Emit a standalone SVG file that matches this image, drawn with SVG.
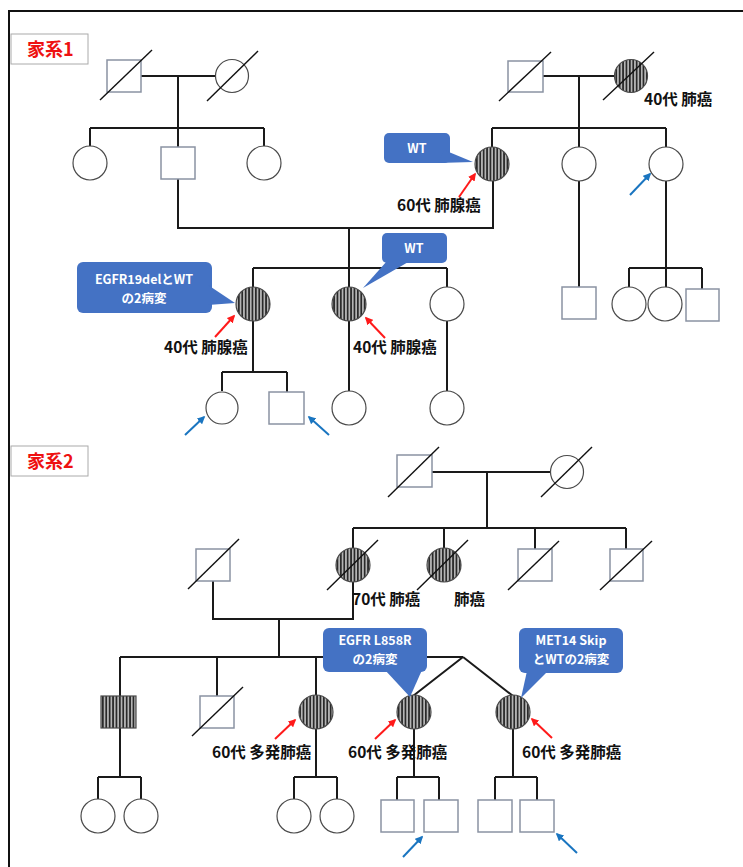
<svg xmlns="http://www.w3.org/2000/svg" width="743" height="867" viewBox="0 0 743 867">
<defs>
<pattern id="stripe" patternUnits="userSpaceOnUse" width="3.4" height="10">
<rect x="0" y="0" width="3.4" height="10" fill="#b4b4b4"/>
<rect x="0" y="0" width="1.7" height="10" fill="#2a2a2a"/>
</pattern>
<marker id="ar" viewBox="0 0 10 10" refX="8" refY="5" markerWidth="4" markerHeight="4" orient="auto"><path d="M0,0 L10,5 L0,10 z" fill="#ff1a1a"/></marker>
<marker id="ab" viewBox="0 0 10 10" refX="8" refY="5" markerWidth="4" markerHeight="4" orient="auto"><path d="M0,0 L10,5 L0,10 z" fill="#1a75c0"/></marker>
</defs>
<style>
.sq{fill:#fff;stroke:#8a93a3;stroke-width:1.5}
.ci{fill:#fff;stroke:#4a4a4a;stroke-width:1.2}
.st{fill:url(#stripe);stroke:#4a4a4a;stroke-width:1.2}
.dg{stroke:#111;stroke-width:1.4}
.ln{fill:none;stroke:#1a1a1a;stroke-width:2}
.lbl{font-family:"Noto Sans CJK JP","Noto Sans",sans-serif;font-weight:bold;font-size:15.5px;fill:#111}
.cb{fill:#4472c4}
.ct{font-family:"Noto Sans CJK JP","Noto Sans",sans-serif;font-weight:bold;font-size:12.5px;fill:#fff;text-anchor:middle}
.ra{stroke:#ff1a1a;stroke-width:2;marker-end:url(#ar)}
.ba{stroke:#1a75c0;stroke-width:2;marker-end:url(#ab)}
.hd{font-family:"Noto Sans CJK JP",sans-serif;font-weight:bold;font-size:18px;fill:#ee1111}
</style>
<rect width="743" height="867" fill="#fff"/>
<rect x="9" y="11" width="745" height="870" fill="none" stroke="#111" stroke-width="2"/>

<g id="heading1"><rect x="11" y="34" width="77" height="30" fill="#fff" stroke="#aaa" stroke-width="1"/><text class="hd" x="27" y="56">家系1</text></g>
<g id="heading2"><rect x="11" y="446" width="77" height="30" fill="#fff" stroke="#aaa" stroke-width="1"/><text class="hd" x="27" y="468">家系2</text></g>

<g id="connectors">
<path class="ln" d="M141,76 H216 M178,76 V128 M90,128 H264 M90,128 V147 M178,128 V147 M264,128 V147"/>
<path class="ln" d="M543,76 H614 M579,76 V147 M492,128 H666 M492,128 V147 M666,128 V147"/>
<path class="ln" d="M178,179 V228 H493 V181 M349,228 V287 M253,268 H447 M253,268 V287 M447,268 V287"/>
<path class="ln" d="M579,181 V287 M666,181 V287 M629,268 H702 M629,268 V287 M702,268 V289"/>
<path class="ln" d="M253,321 V372 M222,372 H287 M222,372 V391 M287,372 V392 M349,321 V391 M447,321 V391"/>
<path class="ln" d="M432,472 H550 M487,472 V528 M353,528 H626 M353,528 V548 M444,528 V548 M535,528 V549 M626,528 V549"/>
<path class="ln" d="M213,581 V619 H353 V582 M279,619 V657 M120,657 H463 M120,657 V696 M217,657 V696 M316,657 V695 M463,657 L413,696 M463,657 L513,696"/>
<path class="ln" d="M120,728 V777 M98,777 H141 M98,777 V799 M141,777 V799 M316,729 V777 M294,777 H337 M294,777 V799 M337,777 V799 M414,729 V777 M397,777 H439 M397,777 V800 M439,777 V800 M513,729 V777 M495,777 H537 M495,777 V800 M537,777 V800"/>
</g>

<g id="f1-gf1"><rect class="sq" x="107" y="60" width="34" height="32"/><line class="dg" x1="100" y1="100" x2="152" y2="50"/></g>
<g id="f1-gm1"><circle class="ci" cx="232" cy="76" r="16.5"/><line class="dg" x1="207" y1="101" x2="258" y2="51"/></g>
<g id="f1-gf2"><rect class="sq" x="508" y="61" width="35" height="31"/><line class="dg" x1="499" y1="101" x2="551" y2="52"/></g>
<g id="f1-gm2"><circle class="st" cx="631" cy="76" r="16.5"/><line class="dg" x1="603" y1="100" x2="654" y2="52"/><text class="lbl" x="644" y="105">40代 肺癌</text></g>
<g id="f1-a1"><circle class="ci" cx="90" cy="163" r="17"/></g>
<g id="f1-a2"><rect class="sq" x="161" y="147" width="34" height="32"/></g>
<g id="f1-a3"><circle class="ci" cx="264" cy="163" r="17"/></g>
<g id="f1-b1"><circle class="st" cx="492" cy="164" r="17"/><text class="lbl" x="397" y="211">60代 肺腺癌</text></g>
<g id="f1-b2"><circle class="ci" cx="579" cy="164" r="17"/></g>
<g id="f1-b3"><circle class="ci" cx="666" cy="164" r="17"/></g>
<g id="f1-c1"><rect class="sq" x="562" y="287" width="34" height="32"/></g>
<g id="f1-c2"><circle class="ci" cx="629" cy="304" r="17"/></g>
<g id="f1-c3"><circle class="ci" cx="665" cy="304" r="17"/></g>
<g id="f1-c4"><rect class="sq" x="686" y="289" width="33" height="32"/></g>
<g id="f1-d1"><circle class="st" cx="253" cy="304" r="17"/><text class="lbl" x="164" y="353">40代 肺腺癌</text></g>
<g id="f1-d2"><circle class="st" cx="349" cy="304" r="17"/><text class="lbl" x="353" y="353">40代 肺腺癌</text></g>
<g id="f1-d3"><circle class="ci" cx="447" cy="304" r="17"/></g>
<g id="f1-e1"><circle class="ci" cx="222" cy="408" r="16"/></g>
<g id="f1-e2"><rect class="sq" x="269" y="392" width="35" height="32"/></g>
<g id="f1-e3"><circle class="ci" cx="349" cy="408" r="17"/></g>
<g id="f1-e4"><circle class="ci" cx="447" cy="408" r="17"/></g>

<g id="f2-gf"><rect class="sq" x="397" y="455" width="35" height="32"/><line class="dg" x1="388" y1="497" x2="439" y2="447"/></g>
<g id="f2-gm"><circle class="ci" cx="567" cy="472" r="16.5"/><line class="dg" x1="541" y1="497" x2="592" y2="447"/></g>
<g id="f2-s0"><rect class="sq" x="196" y="549" width="34" height="32"/><line class="dg" x1="188" y1="589" x2="239" y2="539"/></g>
<g id="f2-a1"><circle class="st" cx="353" cy="565" r="17"/><line class="dg" x1="327" y1="590" x2="378" y2="540"/><text class="lbl" x="352" y="605">70代 肺癌</text></g>
<g id="f2-a2"><circle class="st" cx="444" cy="565" r="17"/><line class="dg" x1="417" y1="590" x2="468" y2="540"/><text class="lbl" x="454" y="605">肺癌</text></g>
<g id="f2-a3"><rect class="sq" x="518" y="549" width="34" height="32"/><line class="dg" x1="508" y1="590" x2="559" y2="541"/></g>
<g id="f2-a4"><rect class="sq" x="610" y="549" width="33" height="32"/><line class="dg" x1="600" y1="590" x2="652" y2="541"/></g>
<g id="f2-b1"><rect class="st" x="101" y="696" width="35" height="32" stroke="#8a93a3"/></g>
<g id="f2-b2"><rect class="sq" x="200" y="696" width="34" height="32"/><line class="dg" x1="192" y1="736" x2="243" y2="687"/></g>
<g id="f2-b3"><circle class="st" cx="316" cy="712" r="17"/><text class="lbl" x="212" y="758">60代 多発肺癌</text></g>
<g id="f2-b4"><circle class="st" cx="414" cy="712" r="17"/><text class="lbl" x="348" y="758">60代 多発肺癌</text></g>
<g id="f2-b5"><circle class="st" cx="513" cy="712" r="17"/><text class="lbl" x="522" y="758">60代 多発肺癌</text></g>
<g id="f2-c1"><circle class="ci" cx="98" cy="816" r="17"/></g>
<g id="f2-c2"><circle class="ci" cx="141" cy="816" r="17"/></g>
<g id="f2-c3"><circle class="ci" cx="294" cy="816" r="17"/></g>
<g id="f2-c4"><circle class="ci" cx="337" cy="816" r="17"/></g>
<g id="f2-c5"><rect class="sq" x="381" y="800" width="33" height="32"/></g>
<g id="f2-c6"><rect class="sq" x="424" y="800" width="34" height="32"/></g>
<g id="f2-c7"><rect class="sq" x="478" y="800" width="34" height="32"/></g>
<g id="f2-c8"><rect class="sq" x="520" y="800" width="34" height="32"/></g>

<g id="callout-wt1"><rect class="cb" x="384" y="133" width="66" height="30" rx="5"/><polygon class="cb" points="444,150 473,162 438,163"/><text class="ct" x="417" y="153" font-size="14">WT</text></g>
<g id="callout-egfr19"><rect class="cb" x="77" y="262" width="135" height="51" rx="6"/><polygon class="cb" points="208,285 235,303 208,305"/><text class="ct" x="144" y="284">EGFR19delとWT</text><text class="ct" x="144" y="303">の2病変</text></g>
<g id="callout-wt2"><rect class="cb" x="382" y="233" width="65" height="30" rx="5"/><polygon class="cb" points="387,261 363,288 410,261"/><text class="ct" x="414" y="253" font-size="14">WT</text></g>
<g id="callout-l858r"><rect class="cb" x="323" y="628" width="104" height="44" rx="6"/><polygon class="cb" points="385,670 410,697 422,670"/><text class="ct" x="375" y="645">EGFR L858R</text><text class="ct" x="375" y="664">の2病変</text></g>
<g id="callout-met14"><rect class="cb" x="519" y="628" width="104" height="45" rx="6"/><polygon class="cb" points="527,671 521,698 548,671"/><text class="ct" x="571" y="645">MET14 Skip</text><text class="ct" x="571" y="664">とWTの2病変</text></g>

<g id="arrows">
<line class="ra" x1="459" y1="197" x2="475" y2="174"/>
<line class="ba" x1="630" y1="195" x2="650" y2="174"/>
<line class="ra" x1="215" y1="337" x2="234" y2="316"/>
<line class="ra" x1="385" y1="338" x2="366" y2="318"/>
<line class="ba" x1="185" y1="435" x2="204" y2="417"/>
<line class="ba" x1="329" y1="435" x2="309" y2="417"/>
<line class="ra" x1="275" y1="739" x2="295" y2="720"/>
<line class="ra" x1="375" y1="739" x2="395" y2="720"/>
<line class="ra" x1="552" y1="738" x2="532" y2="719"/>
<line class="ba" x1="403" y1="857" x2="422" y2="837"/>
<line class="ba" x1="577" y1="853" x2="557" y2="834"/>
</g>
</svg>
